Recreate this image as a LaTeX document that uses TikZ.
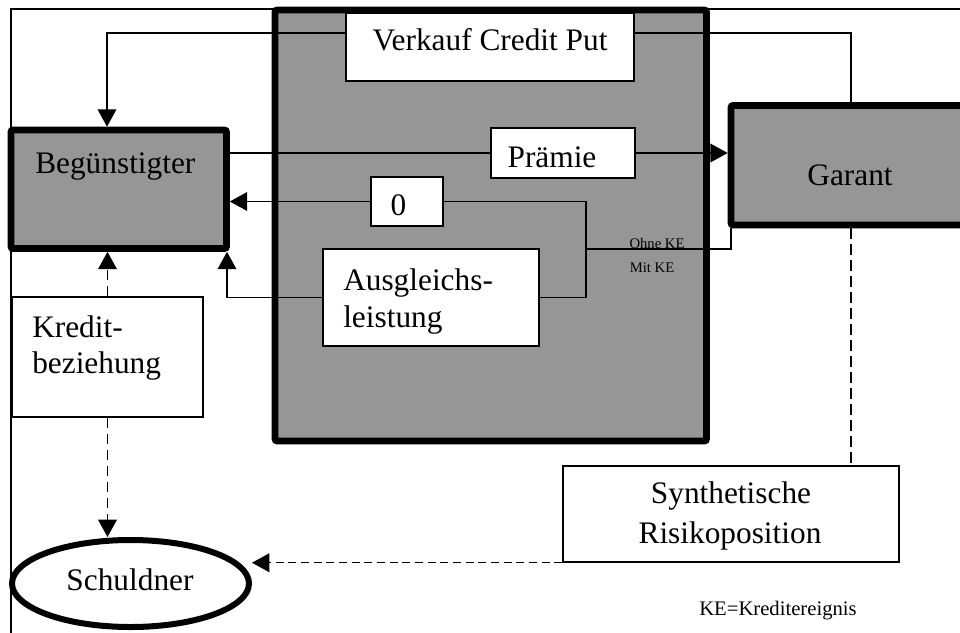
\documentclass[tikz,border=0pt]{standalone}
\usepackage{fontspec}
\setmainfont{Liberation Serif}
\usetikzlibrary{arrows.meta,fit,shapes.geometric}
\definecolor{boxgray}{RGB}{150,150,150}
\begin{document}
\begin{tikzpicture}[x=0.75pt,y=-0.75pt,
  conn/.style={line width=1.1pt},
  arr/.style={conn,-{Triangle[length=13pt,width=14pt]}},
  dashline/.style={conn,dash pattern=on 8pt off 4pt},
  dashshort/.style={conn,dash pattern=on 6pt off 3.5pt},
  thickbox/.style={draw,line width=5pt,fill=boxgray,inner sep=0pt,rounded corners=1.5pt},
  whitebox/.style={draw,line width=1.1pt,fill=white,inner sep=0pt},
  bigtext/.style={font=\fontsize{23.5pt}{28pt}\selectfont,inner sep=0pt},
  smalltext/.style={font=\fontsize{11pt}{13pt}\selectfont,inner sep=0pt},
  notetext/.style={font=\fontsize{15.5pt}{18pt}\selectfont,inner sep=0pt}]
\useasboundingbox (0,0) rectangle (960,632);
\clip (0,0) rectangle (960,632);
% frame
\draw[conn] (11,640) -- (11,9) -- (975,9);
% boxes
\node[thickbox, fit={(275,10) (706.5,441)}] (credit) {};
\node[thickbox, fit={(11,130) (226.5,248.5)}] (beg) {};
\node[thickbox, fit={(731,105.5) (971,225)}] (garant) {};
\node[whitebox, fit={(346,13) (634,81)}] (verkauf) {};
\node[whitebox, fit={(491,128) (635,178)}] (praemie) {};
\node[whitebox, fit={(371,177) (443,226)}] (zero) {};
\node[whitebox, fit={(323,249) (539,346)}] (ausgl) {};
\node[whitebox, fit={(12,297) (203,417)}] (kredit) {};
\node[whitebox, fit={(563,466) (899,562)}] (synth) {};
\node[draw, ellipse, line width=4.5pt, fill=white, inner sep=0pt,
      minimum width=177.75pt, minimum height=65.25pt] (schuldner) at (130.5,583.5) {};
% connectors
\coordinate (c1) at (107,33);
\draw[arr] (verkauf.west |- c1) -- (c1) -- (c1 |- beg.north);
\coordinate (c2) at (851,33);
\draw[conn] (verkauf.east |- c2) -- (c2) -- (c2 |- garant.north);
\draw[conn] (praemie.west -| beg.east) -- (praemie.west);
\draw[arr] (praemie.east) -- (praemie.east -| garant.west);
\draw[arr] (zero.west) -- (zero.west -| beg.east);
\coordinate (c3) at (586,201.5);
\coordinate (c4) at (586,297.5);
\draw[conn] (zero.east) -- (c3) -- (c4) -- (ausgl.east);
\coordinate (c5) at (586,249);
\coordinate (c6) at (731,249);
\draw[conn] (c5) -- (c6) -- (c6 |- garant.south);
\coordinate (c7) at (227,297.5);
\draw[arr] (ausgl.west) -- (c7) -- (c7 |- beg.south);
\draw[dashline,-{Triangle[length=13pt,width=14pt]}] (kredit.north) -- (kredit.north |- beg.south);
\draw[dashline,-{Triangle[length=13pt,width=14pt]}] (kredit.south) -- (kredit.south |- schuldner.north);
\draw[dashline] (garant.south) -- (garant.south |- synth.north);
\draw[dashshort,-{Triangle[length=13pt,width=14pt]}] (synth.south west) -- (synth.south west -| schuldner.east);
% texts
\node[bigtext, anchor=base] (tverkauf) at (490,50) {Verkauf Credit Put};
\node[bigtext, anchor=base] (tpraemie) at (552,167) {Prämie};
\node[bigtext, anchor=base] (tzero) at (398.5,215) {0};
\node[bigtext, anchor=base west] (tbeg) at (35,173) {Begünstigter};
\node[bigtext, anchor=base] (tgarant) at (850,185) {Garant};
\node[bigtext, anchor=base west] (tausgl1) at (343,290) {Ausgleichs-};
\node[bigtext, anchor=base west] (tausgl2) at (343,327) {leistung};
\node[bigtext, anchor=base west] (tkredit1) at (32,337) {Kredit-};
\node[bigtext, anchor=base west] (tkredit2) at (32,373) {beziehung};
\node[bigtext, anchor=base] (tsynth1) at (731,503) {Synthetische};
\node[bigtext, anchor=base] (tsynth2) at (730,543) {Risikoposition};
\node[bigtext, anchor=base] (tschuld) at (130,590) {Schuldner};
\node[smalltext, anchor=base] (tohne) at (657,248) {Ohne KE};
\node[smalltext, anchor=base] (tmit) at (652,272) {Mit KE};
\node[notetext, anchor=base] (tnote) at (778,615) {KE=Kreditereignis};
\end{tikzpicture}
\end{document}
